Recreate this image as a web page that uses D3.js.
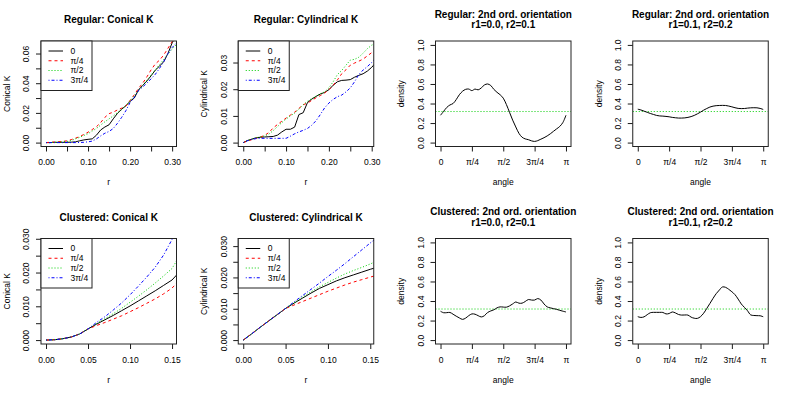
<!DOCTYPE html>
<html><head><meta charset="utf-8">
<script src="https://cdn.jsdelivr.net/npm/d3@7/dist/d3.min.js"></script>
<style>
body{margin:0;background:#fff}
text{font-family:"Liberation Sans",Arial,Helvetica,sans-serif;fill:#000}
</style>
</head><body><svg id="c" width="789" height="395"></svg>
<script>
// ---------------- DATA ----------------
const seriesNames = ["0", "π/4", "π/2", "3π/4"];

// Regular pattern: r grid
const rRegular = [0,0.01,0.02,0.03,0.04,0.05,0.06,0.07,0.08,0.09,0.10,0.11,0.12,0.13,0.14,0.15,0.16,0.17,0.18,0.19,0.20,0.21,0.22,0.23,0.24,0.25,0.26,0.27,0.28,0.29,0.30,0.31];
// Regular: Conical K
const regCon0   = [0,0,0.0002,0.0002,0.0002,0.0002,0.0003,0.0005,0.0012,0.0018,0.0022,0.0025,0.005,0.0085,0.0105,0.012,0.016,0.0197,0.0225,0.0248,0.0278,0.030,0.0355,0.0385,0.0415,0.045,0.0488,0.0515,0.0545,0.060,0.0672,0.072];
const regCon45  = [0,0.0002,0.0004,0.0006,0.0008,0.0012,0.002,0.003,0.004,0.0055,0.007,0.0088,0.0107,0.0135,0.017,0.0195,0.0205,0.022,0.0232,0.0245,0.0285,0.0322,0.0365,0.040,0.0443,0.049,0.053,0.0555,0.059,0.0635,0.068,0.071];
const regCon90  = [0,0,0.0002,0.0003,0.0005,0.0008,0.0014,0.0025,0.0035,0.0048,0.006,0.0078,0.0095,0.0118,0.014,0.016,0.018,0.0202,0.0222,0.025,0.028,0.0315,0.035,0.0385,0.042,0.0455,0.049,0.0525,0.056,0.0595,0.063,0.066];
const regCon135 = [0,0,0,0,0,0,0,0,0.0001,0.0002,0.0005,0.001,0.0025,0.0045,0.0063,0.0075,0.0095,0.013,0.017,0.0215,0.027,0.0305,0.035,0.0375,0.040,0.043,0.046,0.050,0.0545,0.060,0.064,0.067];
// Regular: Cylindrical K
const regCyl0   = [0,0.0008,0.0013,0.0018,0.002,0.0021,0.0022,0.0023,0.0028,0.004,0.005,0.005,0.0058,0.0105,0.0112,0.015,0.0163,0.0173,0.0182,0.0188,0.0198,0.0215,0.0228,0.0233,0.0234,0.0236,0.0245,0.0252,0.0258,0.0268,0.0282,0.030];
const regCyl45  = [0,0.0006,0.0011,0.0016,0.0021,0.0027,0.0038,0.0055,0.0068,0.008,0.0092,0.0103,0.0114,0.0128,0.0142,0.0148,0.0158,0.0168,0.0176,0.0186,0.0198,0.0215,0.0235,0.0258,0.0273,0.029,0.0298,0.0305,0.0313,0.0325,0.0337,0.0345];
const regCyl90  = [0,0.0007,0.0013,0.0018,0.0022,0.0025,0.0032,0.0045,0.006,0.0075,0.0088,0.010,0.011,0.0125,0.0142,0.0155,0.0165,0.0174,0.0183,0.019,0.0205,0.0228,0.0255,0.027,0.029,0.0309,0.0312,0.032,0.0335,0.0352,0.0365,0.0372];
const regCyl135 = [0,0.0007,0.0012,0.0015,0.0016,0.0016,0.0016,0.0016,0.0016,0.0016,0.0016,0.0024,0.0033,0.004,0.0046,0.0053,0.0065,0.0082,0.0105,0.013,0.0148,0.0162,0.0172,0.0178,0.019,0.0205,0.0228,0.0255,0.0272,0.0285,0.030,0.0318];

// Clustered pattern: r grid
const rClustered = [0,0.01,0.02,0.03,0.04,0.05,0.06,0.07,0.08,0.09,0.10,0.11,0.12,0.13,0.14,0.15,0.16];
// Clustered: Conical K
const cluCon0   = [0,0.0001,0.0004,0.0009,0.0018,0.0033,0.0047,0.006,0.0073,0.0087,0.0101,0.0116,0.0131,0.0146,0.0162,0.0178,0.0205];
const cluCon45  = [0,0.0001,0.0004,0.0009,0.0018,0.0033,0.0043,0.0052,0.0062,0.0072,0.0084,0.0096,0.0109,0.0122,0.0137,0.0154,0.018];
const cluCon90  = [0,0.0001,0.0004,0.0009,0.0018,0.0033,0.0049,0.0063,0.0078,0.0094,0.0112,0.013,0.0149,0.0169,0.019,0.0212,0.0254];
const cluCon135 = [0,0.0001,0.0004,0.0009,0.0018,0.0033,0.0052,0.0069,0.0089,0.011,0.0134,0.016,0.0187,0.0216,0.0252,0.0298,0.034];
// Clustered: Cylindrical K
const cluCyl0   = [0,0.002,0.0041,0.0061,0.0081,0.0101,0.0118,0.0134,0.015,0.0165,0.0177,0.0189,0.0199,0.0208,0.0217,0.0226,0.0234];
const cluCyl45  = [0,0.002,0.0041,0.0061,0.0081,0.0101,0.0112,0.0123,0.0134,0.0145,0.0156,0.0166,0.0176,0.0185,0.0193,0.0201,0.0209];
const cluCyl90  = [0,0.002,0.0041,0.0061,0.0081,0.0101,0.0119,0.0137,0.0154,0.017,0.0184,0.0198,0.0211,0.0222,0.0232,0.0243,0.0255];
const cluCyl135 = [0,0.002,0.0041,0.0061,0.0081,0.0101,0.0122,0.0142,0.0162,0.0182,0.0203,0.0223,0.0244,0.0266,0.0288,0.031,0.0332];

// Orientation densities: angle grid (in units of π)
const angleFrac = [0,0.025,0.05,0.075,0.1,0.125,0.15,0.175,0.2,0.225,0.25,0.275,0.3,0.325,0.35,0.375,0.4,0.425,0.45,0.475,0.5,0.525,0.55,0.575,0.6,0.625,0.65,0.675,0.7,0.725,0.75,0.775,0.8,0.825,0.85,0.875,0.9,0.925,0.95,0.975,1];
const regOri01 = [0.28,0.32,0.36,0.385,0.40,0.44,0.49,0.525,0.545,0.548,0.532,0.548,0.54,0.56,0.59,0.60,0.585,0.545,0.515,0.49,0.455,0.39,0.31,0.23,0.16,0.095,0.055,0.038,0.03,0.018,0.012,0.02,0.035,0.05,0.068,0.09,0.115,0.14,0.165,0.205,0.28];
const regOri12 = [0.342,0.334,0.322,0.31,0.298,0.288,0.278,0.273,0.271,0.268,0.264,0.258,0.254,0.251,0.251,0.253,0.258,0.266,0.278,0.294,0.312,0.332,0.349,0.364,0.373,0.378,0.38,0.381,0.38,0.374,0.366,0.357,0.35,0.348,0.349,0.353,0.356,0.357,0.356,0.35,0.339];
const cluOri01 = [0.295,0.28,0.281,0.283,0.265,0.245,0.227,0.212,0.225,0.25,0.268,0.265,0.25,0.237,0.25,0.282,0.298,0.31,0.33,0.34,0.338,0.337,0.35,0.37,0.39,0.378,0.378,0.395,0.415,0.41,0.41,0.425,0.41,0.37,0.34,0.33,0.322,0.315,0.305,0.296,0.288];
const cluOri12 = [0.24,0.232,0.238,0.26,0.28,0.284,0.284,0.284,0.283,0.268,0.272,0.288,0.278,0.262,0.256,0.257,0.256,0.235,0.224,0.222,0.24,0.275,0.324,0.375,0.427,0.475,0.512,0.544,0.54,0.52,0.495,0.465,0.42,0.37,0.335,0.30,0.258,0.252,0.25,0.249,0.239];
const uniformDensity = 0.318;

// Tick values and labels
const regXTicks = [0,0.05,0.10,0.15,0.20,0.25,0.30];
const regXLabels = ["0.00","","0.10","","0.20","","0.30"];
const regConYTicks = [0,0.01,0.02,0.03,0.04,0.05,0.06];
const regConYLabels = ["0.00","","0.02","","0.04","","0.06"];
const regCylYTicks = [0,0.01,0.02,0.03];
const regCylYLabels = ["0.00","0.01","0.02","0.03"];
const cluXTicks = [0,0.05,0.10,0.15];
const cluXLabels = ["0.00","0.05","0.10","0.15"];
const cluYTicks = [0,0.005,0.010,0.015,0.020,0.025,0.030];
const cluYLabels = ["0.000","","0.010","","0.020","","0.030"];
const angXTicks = [0,0.25,0.5,0.75,1];
const angXLabels = ["0","π/4","π/2","3π/4","π"];
const denYTicks = [0,0.2,0.4,0.6,0.8,1.0];
const denYLabels = ["0.0","0.2","0.4","0.6","0.8","1.0"];

// ---------------- STYLE ----------------
const colors = ["#000000","#FF0000","#00CD00","#0000FF"];
const dashes = [null,"3,3","1,2","1,2,3,2"];

const panels = [
  {col:0,row:0,title:["Regular: Conical K"],ylab:"Conical K",xlab:"r",
   xd:[-0.0119,0.3104],yd:[-0.00263,0.06843],xt:regXTicks,xl:regXLabels,yt:regConYTicks,yl:regConYLabels,
   x:rRegular,ys:[regCon0,regCon45,regCon90,regCon135],legend:true},
  {col:1,row:0,title:["Regular: Cylindrical K"],ylab:"Cylindrical K",xlab:"r",
   xd:[-0.0117,0.3048],yd:[-0.00146,0.03806],xt:regXTicks,xl:regXLabels,yt:regCylYTicks,yl:regCylYLabels,
   x:rRegular,ys:[regCyl0,regCyl45,regCyl90,regCyl135],legend:true},
  {col:2,row:0,title:["Regular: 2nd ord. orientation","r1=0.0, r2=0.1"],ylab:"density",xlab:"angle",
   xd:[-0.04,1.04],yd:[-0.04,1.04],xt:angXTicks,xl:angXLabels,yt:denYTicks,yl:denYLabels,
   x:angleFrac,ys:[regOri01],density:true},
  {col:3,row:0,title:["Regular: 2nd ord. orientation","r1=0.1, r2=0.2"],ylab:"density",xlab:"angle",
   xd:[-0.04,1.04],yd:[-0.04,1.04],xt:angXTicks,xl:angXLabels,yt:denYTicks,yl:denYLabels,
   x:angleFrac,ys:[regOri12],density:true},
  {col:0,row:1,title:["Clustered: Conical K"],ylab:"Conical K",xlab:"r",
   xd:[-0.00597,0.1553],yd:[-0.00116,0.03008],xt:cluXTicks,xl:cluXLabels,yt:cluYTicks,yl:cluYLabels,
   x:rClustered,ys:[cluCon0,cluCon45,cluCon90,cluCon135],legend:true},
  {col:1,row:1,title:["Clustered: Cylindrical K"],ylab:"Cylindrical K",xlab:"r",
   xd:[-0.0059,0.1541],yd:[-0.00125,0.03243],xt:cluXTicks,xl:cluXLabels,yt:cluYTicks,yl:cluYLabels,
   x:rClustered,ys:[cluCyl0,cluCyl45,cluCyl90,cluCyl135],legend:true},
  {col:2,row:1,title:["Clustered: 2nd ord. orientation","r1=0.0, r2=0.1"],ylab:"density",xlab:"angle",
   xd:[-0.04,1.04],yd:[-0.04,1.04],xt:angXTicks,xl:angXLabels,yt:denYTicks,yl:denYLabels,
   x:angleFrac,ys:[cluOri01],density:true},
  {col:3,row:1,title:["Clustered: 2nd ord. orientation","r1=0.1, r2=0.2"],ylab:"density",xlab:"angle",
   xd:[-0.04,1.04],yd:[-0.04,1.04],xt:angXTicks,xl:angXLabels,yt:denYTicks,yl:denYLabels,
   x:angleFrac,ys:[cluOri12],density:true}
];

// ---------------- DRAW ----------------
const svg = d3.select("#c");
const colW = 197.25, rowH = 197.5, boxW = 135.5, boxH = 105.5, ml = 41, mt = 41;
const tickFont = 8.5, titleFont = 10;

panels.forEach((p, pi) => {
  const L = p.col*colW + ml, T = p.row*rowH + mt;
  const g = svg.append("g").attr("transform", `translate(${L},${T})`);
  const x = d3.scaleLinear().domain(p.xd).range([0, boxW]);
  const y = d3.scaleLinear().domain(p.yd).range([boxH, 0]);

  const cid = "clip" + pi;
  g.append("clipPath").attr("id", cid).append("rect").attr("width", boxW).attr("height", boxH);

  // x axis
  const xa = g.append("g").attr("transform", `translate(0,${boxH})`)
    .call(d3.axisBottom(x).tickValues(p.xt).tickFormat((d,i)=>p.xl[i]).tickSize(5).tickSizeOuter(0));
  xa.select(".domain").remove();
  xa.selectAll("line").attr("stroke","#000").attr("stroke-width",0.9);
  xa.selectAll("text").attr("y", 16).attr("dy","0.35em").style("font-size", tickFont+"px")
    .style("font-family",'"Liberation Sans",Arial,sans-serif').attr("fill","#000");

  // y axis
  const ya = g.append("g")
    .call(d3.axisLeft(y).tickValues(p.yt).tickFormat((d,i)=>p.yl[i]).tickSize(5).tickSizeOuter(0));
  ya.select(".domain").remove();
  ya.selectAll("line").attr("stroke","#000").attr("stroke-width",0.9);
  ya.selectAll("text").attr("x", 0).attr("y", -14.5).attr("dy","0.35em")
    .attr("transform","rotate(-90)").attr("text-anchor","middle")
    .style("font-size", tickFont+"px").style("font-family",'"Liberation Sans",Arial,sans-serif').attr("fill","#000");

  // reference line for uniform density
  const plot = g.append("g").attr("clip-path", `url(#${cid})`);
  if (p.density) {
    plot.append("line").attr("x1", 0).attr("x2", boxW)
      .attr("y1", y(uniformDensity)).attr("y2", y(uniformDensity))
      .attr("stroke", colors[2]).attr("stroke-width", 1).attr("stroke-dasharray", dashes[2]);
  }

  // series
  const line = d3.line().x((d,i)=>x(p.x[i])).y(d=>y(d))
    .curve(p.density ? d3.curveCatmullRom.alpha(0.5) : d3.curveLinear);
  p.ys.forEach((ser, si) => {
    plot.append("path").datum(ser).attr("d", line).attr("fill","none")
      .attr("stroke", colors[si]).attr("stroke-width", 1)
      .attr("stroke-dasharray", dashes[si]);
  });

  // box
  g.append("rect").attr("width", boxW).attr("height", boxH)
    .attr("fill","none").attr("stroke","#222").attr("stroke-width",1);

  // legend
  if (p.legend) {
    const lg = g.append("g");
    lg.append("rect").attr("width", 51).attr("height", 49.5).attr("fill","#fff")
      .attr("stroke","#222").attr("stroke-width",1);
    seriesNames.forEach((nm, si) => {
      const yy = 10 + si*9.75;
      lg.append("line").attr("x1", 7.5).attr("x2", 22).attr("y1", yy).attr("y2", yy)
        .attr("stroke", colors[si]).attr("stroke-width", 1).attr("stroke-dasharray", dashes[si]);
      lg.append("text").attr("x", 29.5).attr("y", yy).attr("dy","0.35em")
        .style("font-size", tickFont+"px").text(nm);
    });
  }

  // axis titles
  g.append("text").attr("x", boxW/2).attr("y", boxH + 36).attr("dy","0.35em")
    .attr("text-anchor","middle").style("font-size", tickFont+"px").text(p.xlab);
  g.append("text").attr("transform", `translate(-34,${boxH/2}) rotate(-90)`).attr("dy","0.35em")
    .attr("text-anchor","middle").style("font-size", tickFont+"px").text(p.ylab);

  // title
  const n = p.title.length;
  p.title.forEach((t, ti) => {
    const base = n === 1 ? -18 : (-23.5 + ti*10.7);
    g.append("text").attr("x", boxW/2).attr("y", base).attr("text-anchor","middle")
      .style("font-size", titleFont+"px").style("font-weight","bold").text(t);
  });
});
</script></body></html>
